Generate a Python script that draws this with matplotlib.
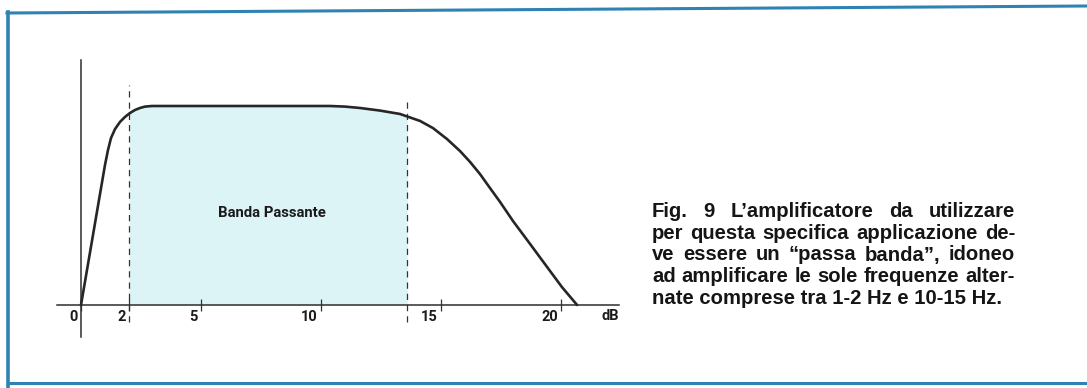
import matplotlib
matplotlib.use("Agg")
import matplotlib.pyplot as plt
import numpy as np
from matplotlib.lines import Line2D
from matplotlib.transforms import ScaledTranslation

# Frequency axis ticks
tick_values = [0, 2, 5, 10, 15, 20]
tick_labels = ["0", "2", "5", "10", "15", "20"]
axis_unit = "dB"

# Response curve of the band-pass amplifier (relative gain, plateau = 1)
freq = [0.0, 0.5, 1.0, 1.125, 1.25, 1.417, 1.625, 1.833, 2.042, 2.25, 2.458,
        2.667, 2.958, 10.375, 11.0, 11.625, 12.458, 13.29, 14.125, 14.667,
        15.25, 15.79, 16.21, 16.625, 17.04, 17.46, 18.0, 18.71, 19.42, 20.04, 20.67]
gain = [0.0, 0.352, 0.704, 0.779, 0.839, 0.884, 0.920, 0.945, 0.965, 0.980, 0.990,
        0.997, 1.0, 1.0, 0.997, 0.990, 0.977, 0.960, 0.925, 0.889,
        0.834, 0.774, 0.719, 0.658, 0.588, 0.518, 0.422, 0.307, 0.191, 0.090, 0.0]

# Pass band limits
band_low = 2.0
band_high = 13.6
band_label = "Banda Passante"

caption_lines = [
    "Fig. 9 L\u2019amplificatore da utilizzare",
    "per questa specifica applicazione de-",
    "ve essere un \u201cpassa banda\u201d, idoneo",
    "ad amplificare le sole frequenze alter-",
    "nate comprese tra 1-2 Hz e 10-15 Hz.",
]

W, H, DPI = 1087, 388, 100
fig = plt.figure(figsize=(W / DPI, H / DPI), dpi=DPI)
fig.patch.set_facecolor("white")

# axes covering the whole figure: 24 px per unit in x, 199 px per unit in y
ax = fig.add_axes([0, 0, 1, 1])
ax.set_facecolor("none")
ax.set_xlim(-81 / 24, (W - 81) / 24)
ax.set_ylim((305 - H) / 199, 305 / 199)

narrow = ["Roboto", "DejaVu Sans"]
ink = "#262626"

# shaded pass band under the curve
fx = np.array(freq)
fy = np.array(gain)
mask = (fx > band_low) & (fx < band_high)
xs = np.concatenate([[band_low], fx[mask], [band_high]])
ys = np.concatenate([[np.interp(band_low, fx, fy)], fy[mask], [np.interp(band_high, fx, fy)]])
ax.fill_between(xs, 0, ys, color="#ddf4f7", lw=0, zorder=1)

# pass band limits
ax.vlines([band_low], -0.085, 1.105, colors="#333333", linestyles=(0, (5, 4)), lw=0.9, zorder=2)
ax.vlines([band_high], -0.085, 1.04, colors="#333333", linestyles=(0, (5, 4)), lw=0.9, zorder=2)

# response curve
ax.plot(fx, fy, color=ink, lw=1.9, solid_capstyle="round", solid_joinstyle="round", zorder=4)

# axes lines and ticks
for side in ("top", "right"):
    ax.spines[side].set_visible(False)
ax.spines["bottom"].set_position(("data", 0))
ax.spines["left"].set_position(("data", 0))
ax.spines["bottom"].set_bounds(-1.0, 22.4)
ax.spines["left"].set_bounds(-0.16, 1.23)
for side in ("bottom", "left"):
    ax.spines[side].set_color("#2e2e2e")
    ax.spines[side].set_linewidth(1.1)
    ax.spines[side].set_zorder(3)
ax.set_yticks([])
ax.set_xticks(tick_values, tick_labels)
ax.tick_params(axis="x", direction="inout", length=8.5, width=0.9, color="#333333", pad=-1)
shift = ScaledTranslation(-3 / DPI, 0, fig.dpi_scale_trans)
for lbl in ax.get_xticklabels():
    lbl.set_horizontalalignment("right")
    lbl.set_transform(lbl.get_transform() + shift)
    lbl.set_fontfamily(narrow)
    lbl.set_fontweight("bold")
    lbl.set_fontsize(10.5)
    lbl.set_color("#1a1a1a")

ax.text(22.4, 0, axis_unit, ha="right", va="top", fontsize=10.5, fontweight="bold",
        family=narrow, color="#1a1a1a",
        transform=ax.transData + ScaledTranslation(0, -4 / DPI, fig.dpi_scale_trans))

ax.text(7.95, (305 - 213) / 199, band_label, ha="center", va="center", fontsize=10.7,
        fontweight="bold", family=narrow, color="#1a1a1a", zorder=5)

# blue border of the figure panel
blue = "#2f83b3"
fig.add_artist(Line2D([7 / W, 1.0], [1 - 13 / H, 1 - 6 / H], color=blue, lw=2.2, transform=fig.transFigure))
fig.add_artist(Line2D([8 / W, 8 / W], [1 - 12 / H, 0.0], color=blue, lw=2.6, transform=fig.transFigure))
fig.add_artist(Line2D([8 / W, 1.0], [1 - 383 / H, 1 - 383 / H], color=blue, lw=2.2, transform=fig.transFigure))

# justified caption
renderer = fig.canvas.get_renderer()
left_px, right_px = 652, 1015
cap_kw = dict(fontsize=14.6, fontweight="bold", family=["Liberation Sans", "DejaVu Sans"],
              color="#151515", va="baseline", ha="left", transform=fig.transFigure)
for i, line in enumerate(caption_lines):
    base = 1 - (217 + i * 21.75) / H
    if i == len(caption_lines) - 1:
        fig.text(left_px / W, base, line, **cap_kw)
        continue
    words = line.split()
    objs = [fig.text(0, base, w, **cap_kw) for w in words]
    widths = [o.get_window_extent(renderer).width for o in objs]
    gap = (right_px - left_px - sum(widths)) / (len(words) - 1)
    x = left_px
    for o, w in zip(objs, widths):
        o.set_x(x / W)
        x += w + gap

fig.savefig("out.png", dpi=DPI, facecolor="white")
